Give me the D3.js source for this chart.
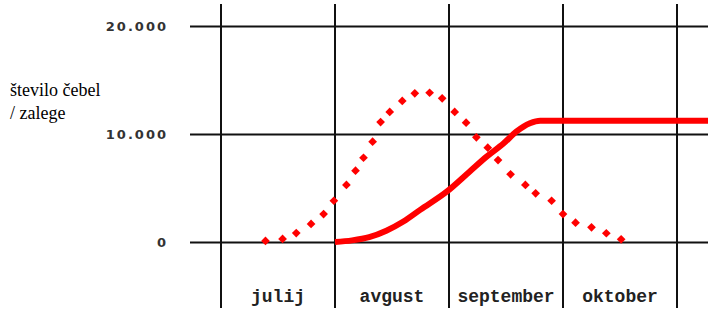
<!DOCTYPE html>
<html>
<head>
<meta charset="utf-8">
<script src="https://cdn.jsdelivr.net/npm/d3@7"></script>
<style>
	body { margin: 0; background: #fff; }
	svg { display: block; }
	.yaxis text {
		font-family: "DejaVu Sans", sans-serif;
		font-weight: bold;
		font-size: 13px;
		letter-spacing: 2px;
		fill: #333;
	}
	.month {
		font-family: "Liberation Mono", monospace;
		font-weight: bold;
		font-size: 18px;
		fill: #222;
		text-anchor: middle;
	}
	.ylabel {
		font-family: "Liberation Serif", serif;
		font-size: 18px;
		fill: #000;
	}
</style>
</head>
<body>
<svg width="708" height="311"></svg>
<script>
	// months (x in month units, 0 = start of July)
	var months = ['julij', 'avgust', 'september', 'oktober'];
	var monthEdges = [0, 1, 2, 3, 4];
	var yTicks = [0, 10000, 20000];

	// zalega (brood) - dotted curve
	var broodX = [0.39, 0.54, 0.66, 0.79, 0.9, 0.99, 1.1, 1.18, 1.25, 1.33, 1.4, 1.48, 1.59, 1.7, 1.83,
		1.94, 2.05, 2.15, 2.24, 2.34, 2.43, 2.54, 2.67, 2.76, 2.9, 3.0, 3.11, 3.25, 3.38, 3.51];
	var broodY = [100, 280, 830, 1670, 2590, 3820, 5280, 6600, 7800, 9290, 11100, 12040, 13060, 13770, 13820,
		13300, 12040, 11050, 9690, 8730, 7590, 6270, 5280, 4510, 3820, 2590, 1790, 1360, 810, 250];

	// število čebel (bees) - solid line
	var beesX = [1.0, 1.15, 1.3, 1.45, 1.6, 1.75, 1.98, 2.18, 2.33, 2.48, 2.59, 2.71, 2.8, 4.3];
	var beesY = [0, 150, 450, 1050, 1900, 3000, 4660, 6510, 7900, 9140, 10210, 10990, 11230, 11230];

	var svg = d3.select('svg');

	var x = d3.scaleLinear().domain([0, 4]).range([221, 677]);
	var y = d3.scaleLinear().domain([0, 20000]).range([242, 26]);

	// horizontal grid + tick labels
	var yAxis = d3.axisLeft(y)
		.tickValues(yTicks)
		.tickSize(-(708 - 190))
		.tickPadding(22)
		.tickFormat(function(d) { return d3.format(',')(d).replace(/,/g, '.'); });

	svg.append('g')
		.attr('class', 'yaxis')
		.attr('transform', 'translate(190,0)')
		.call(yAxis)
		.call(function(g) { g.select('.domain').remove(); })
		.call(function(g) {
			g.selectAll('line').attr('stroke', '#111').attr('stroke-width', 2);
		});

	// vertical grid lines
	svg.append('g')
		.selectAll('line')
		.data(monthEdges)
		.enter()
		.append('line')
		.attr('x1', function(d) { return x(d); })
		.attr('x2', function(d) { return x(d); })
		.attr('y1', 4)
		.attr('y2', 308)
		.attr('stroke', '#111')
		.attr('stroke-width', 2);

	// month labels
	svg.append('g')
		.selectAll('text')
		.data(months)
		.enter()
		.append('text')
		.attr('class', 'month')
		.attr('x', function(d, i) { return x(i + 0.5); })
		.attr('y', 302)
		.text(function(d) { return d; });

	// y label
	var lab = svg.append('text').attr('class', 'ylabel');
	lab.append('tspan').attr('x', 10).attr('y', 96).text('število čebel');
	lab.append('tspan').attr('x', 10).attr('y', 119).text('/ zalege');

	// bees line
	var line = d3.line()
		.x(function(d) { return x(d[0]); })
		.y(function(d) { return y(d[1]); })
		.curve(d3.curveMonotoneX);

	svg.append('path')
		.datum(d3.zip(beesX, beesY))
		.attr('d', line)
		.attr('fill', 'none')
		.attr('stroke', '#ff0000')
		.attr('stroke-width', 6);

	// brood diamonds
	var diamond = d3.symbol().type(d3.symbolSquare).size(38);

	svg.append('g')
		.selectAll('path')
		.data(d3.zip(broodX, broodY))
		.enter()
		.append('path')
		.attr('d', diamond)
		.attr('transform', function(d) {
			return 'translate(' + x(d[0]) + ',' + y(d[1]) + ') rotate(45)';
		})
		.attr('fill', '#ff0000');
</script>
</body>
</html>
